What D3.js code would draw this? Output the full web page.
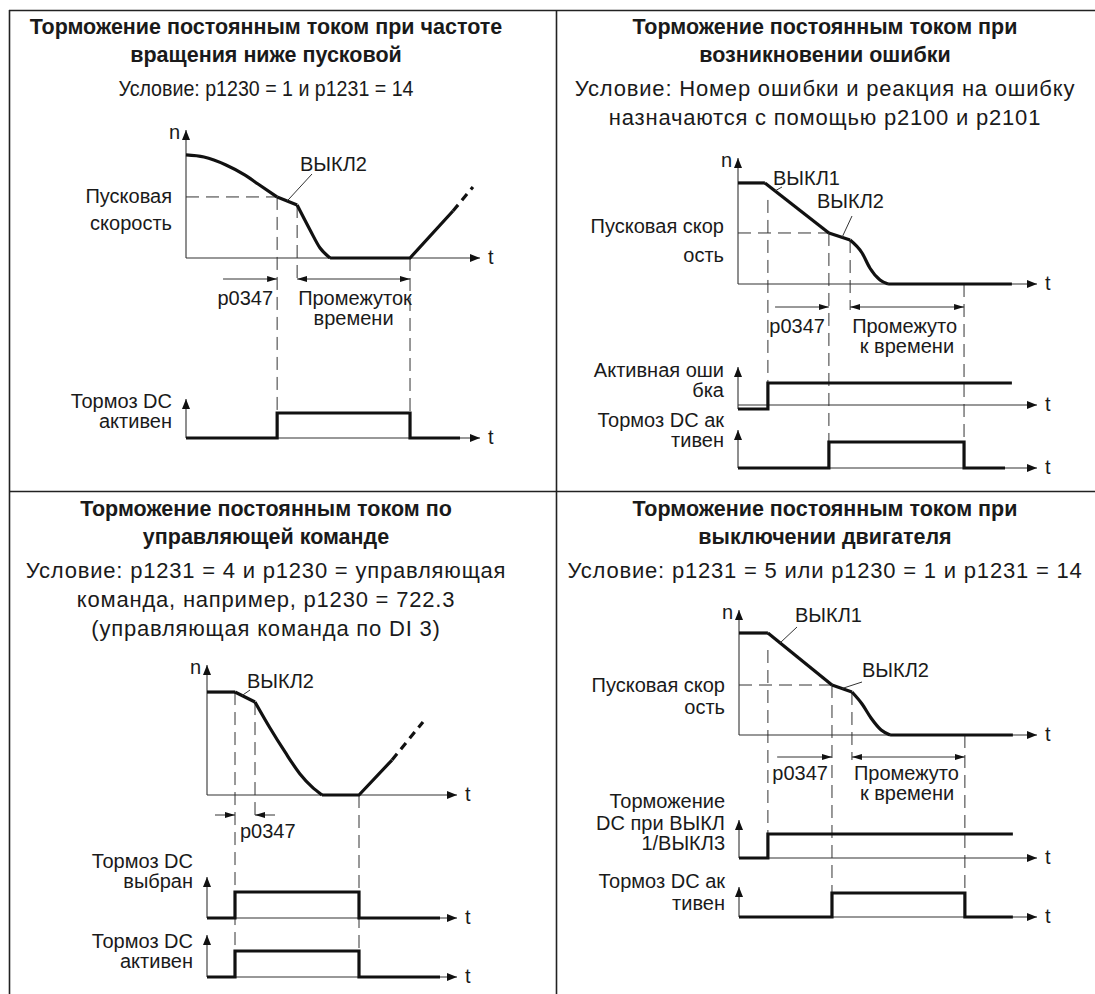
<!DOCTYPE html>
<html>
<head>
<meta charset="utf-8">
<script src="https://cdn.jsdelivr.net/npm/d3@7"></script>
<style>
body { margin: 0; background: #fff; }
svg text { font-family: "Liberation Sans", Arial, sans-serif; fill: #1a1a1a; }
</style>
</head>
<body>
<svg id="chart" width="1095" height="994"></svg>
<script>
// Time runs 0..100 along each t axis, speed 0..100 up each n axis, signals are 0/1

// Panel 1: speed below the starting speed
var p1Title = ["Торможение постоянным током при частоте", "вращения ниже пусковой"];
var p1Cond = ["Условие: p1230 = 1 и p1231 = 14"];
var p1Decel = [[0, 80.5], [6.1, 78.9], [13.6, 72.7], [20.1, 64.8], [24.5, 57.8], [31, 47.7]];
var p1Off2 = [[31, 47.7], [37.8, 41.4]];
var p1Stop = [[37.8, 41.4], [42.2, 21.9], [45.6, 7.8], [49, 0]];
var p1Hold = [[49, 0], [76.2, 0], [90.8, 36.7]];
var p1Restart = [[90.8, 36.7], [97.6, 55.5]];
var p1DcBrake = [[0, 0], [31, 0], [31, 1], [76.2, 1], [76.2, 0], [93.2, 0]];

// Panel 2: on a fault
var p2Title = ["Торможение постоянным током при", "возникновении ошибки"];
var p2Cond = ["Условие: Номер ошибки и реакция на ошибку", "назначаются с помощью p2100 и p2101"];
var p2Run = [[0, 80.2], [9, 80.2]];
var p2Off1 = [[9, 80.2], [30.4, 40.5]];
var p2Off2 = [[30.4, 40.5], [37.5, 34.9]];
var p2Stop = [[37.5, 34.9], [41.5, 24.6], [44.1, 12.7], [47.5, 3.2], [50.2, 0]];
var p2Zero = [[50.2, 0], [91.6, 0]];
var p2Fault = [[0, 0], [10, 0], [10, 1], [91.6, 1]];
var p2DcBrake = [[0, 0], [30.4, 0], [30.4, 1], [75.6, 1], [75.6, 0], [89.3, 0]];

// Panel 3: on a control command
var p3Title = ["Торможение постоянным током по", "управляющей команде"];
var p3Cond = ["Условие: p1231 = 4 и p1230 = управляющая", "команда, например, p1230 = 722.3", "(управляющая команда по DI 3)"];
var p3Run = [[0, 79.2], [11.2, 79.2]];
var p3Off2 = [[11.2, 79.2], [19.2, 71.5]];
var p3Stop = [[19.2, 71.5], [25.2, 51.5], [31.2, 33.1], [37.2, 16.2], [42, 6.2], [46, 0]];
var p3Hold = [[46, 0], [60.8, 0], [74, 26.9]];
var p3Restart = [[74, 26.9], [86.4, 56.2]];
var p3Selected = [[0, 0], [11.2, 0], [11.2, 1], [60.8, 1], [60.8, 0], [93.2, 0]];
var p3Active = [[0, 0], [11.2, 0], [11.2, 1], [60.8, 1], [60.8, 0], [93.2, 0]];

// Panel 4: on switching the motor off
var p4Title = ["Торможение постоянным током при", "выключении двигателя"];
var p4Cond = ["Условие: p1231 = 5 или p1230 = 1 и p1231 = 14"];
var p4Run = [[0, 81.6], [9.7, 81.6]];
var p4Off1 = [[9.7, 81.6], [31.2, 40]];
var p4Off2 = [[31.2, 40], [37.9, 34.4]];
var p4Stop = [[37.9, 34.4], [41.3, 24.8], [44.3, 13.6], [47.7, 4], [50.7, 0]];
var p4Zero = [[50.7, 0], [91.9, 0]];
var p4OffCmd = [[0, 0], [9.7, 0], [9.7, 1], [91.9, 1]];
var p4DcBrake = [[0, 0], [31.2, 0], [31.2, 1], [75.8, 1], [75.8, 0], [91.9, 0]];

var layout = [
  { title: p1Title, cond: p1Cond, condFit: [295], cx: 266, top: 10, x0: 186, x1: 480, y0: 258, y1: 130,
    segs: [{pts: p1Decel, smooth: true}, {pts: p1Off2}, {pts: p1Stop, smooth: true}, {pts: p1Hold}, {pts: p1Restart, dash: true}],
    level: {n: 47.7, t: 31, lines: ["Пусковая", "скорость"], ly: [203, 230]},
    guides: [[31, 47.7, 413], [37.8, 41.4, 283], [76.2, 0, 413]],
    dimY: 279, arrows: [[12.6, 31], [37.8, 76.2, true]],
    dimText: [{s: "p0347", t: 31, dx: -4, y: 305, a: "end"}, {s: "Промежуток", t: 37.8, dx: 1, y: 305, a: "start"}, {s: "времени", t: 57, dx: 0, y: 325, a: "middle"}],
    offs: [{s: "ВЫКЛ2", x: 300, y: 171, lx: 312, ly: 174, at: [34.4, 44.5]}],
    signals: [{lines: ["Тормоз DC", "активен"], ly: [408, 428], low: 438, high: 413, top: 399, steps: p1DcBrake}] },
  { title: p2Title, cond: p2Cond, cx: 825, top: 10, x0: 738, x1: 1037, y0: 284, y1: 158,
    segs: [{pts: p2Run}, {pts: p2Off1}, {pts: p2Off2}, {pts: p2Stop, smooth: true}, {pts: p2Zero}],
    level: {n: 40.5, t: 30.4, lines: ["Пусковая скор", "ость"], ly: [233, 262]},
    guides: [[10, 66.7, 383], [30.4, 40.5, 442], [37.5, 34.9, 310], [75.6, 0, 442]],
    dimY: 307, arrows: [[12.4, 30.4], [37.5, 75.6, true]],
    dimText: [{s: "p0347", t: 30.4, dx: -4, y: 333, a: "end"}, {s: "Промежуто", t: 37.5, dx: 2, y: 333, a: "start"}, {s: "к времени", t: 56.5, dx: 0, y: 353, a: "middle"}],
    offs: [{s: "ВЫКЛ1", x: 773, y: 185, lx: 782, ly: 187, at: [12.4, 73.9]},
           {s: "ВЫКЛ2", x: 817, y: 208, lx: 852, ly: 216, at: [34.8, 37.0]}],
    signals: [{lines: ["Активная оши", "бка"], ly: [377, 397], low: 409, high: 383, top: 367, axis: 405, steps: p2Fault},
              {lines: ["Тормоз DC ак", "тивен"], ly: [427, 447], low: 468, high: 442, top: 430, steps: p2DcBrake}] },
  { title: p3Title, cond: p3Cond, cx: 266, top: 492, x0: 207, x1: 457, y0: 795, y1: 665,
    segs: [{pts: p3Run}, {pts: p3Off2}, {pts: p3Stop, smooth: true}, {pts: p3Hold}, {pts: p3Restart, dash: true}],
    level: null,
    guides: [[11.2, 79.2, 951], [19.2, 71.5, 815], [60.8, 0, 951]],
    dimY: 815, arrows: [[3.2, 11.2], [27.2, 19.2]],
    dimText: [{s: "p0347", t: 11.2, dx: 5, y: 838, a: "start"}],
    offs: [{s: "ВЫКЛ2", x: 247, y: 688, lx: 250, ly: 690, at: [14, 76.5]}],
    signals: [{lines: ["Тормоз DC", "выбран"], ly: [868, 888], low: 918, high: 892, top: 877, steps: p3Selected},
              {lines: ["Тормоз DC", "активен"], ly: [948, 968], low: 977, high: 951, top: 935, steps: p3Active}] },
  { title: p4Title, cond: p4Cond, cx: 825, top: 492, x0: 739, x1: 1037, y0: 735, y1: 610,
    segs: [{pts: p4Run}, {pts: p4Off1}, {pts: p4Off2}, {pts: p4Stop, smooth: true}, {pts: p4Zero}],
    level: {n: 40, t: 31.2, lines: ["Пусковая скор", "ость"], ly: [692, 714]},
    guides: [[9.7, 68, 834], [31.2, 40, 893], [37.9, 34.4, 760], [75.8, 0, 893]],
    dimY: 757, arrows: [[12.8, 31.2], [37.9, 75.8, true]],
    dimText: [{s: "p0347", t: 31.2, dx: -4, y: 780, a: "end"}, {s: "Промежуто", t: 37.9, dx: 2, y: 780, a: "start"}, {s: "к времени", t: 56.4, dx: 0, y: 800, a: "middle"}],
    offs: [{s: "ВЫКЛ1", x: 795, y: 622, lx: 797, ly: 627, at: [13.8, 73.7]},
           {s: "ВЫКЛ2", x: 862, y: 677, lx: 862, ly: 682, at: [34.6, 37.2]}],
    signals: [{lines: ["Торможение", "DC при ВЫКЛ", "1/ВЫКЛ3"], ly: [808, 830, 850], low: 858, high: 834, top: 820, steps: p4OffCmd},
              {lines: ["Тормоз DC ак", "тивен"], ly: [888, 910], low: 917, high: 893, top: 887, steps: p4DcBrake}] }
];

var titleOffsets = [24, 52, 86, 115, 144];
var labelSize = "20px";

var svg = d3.select("#chart");
var defs = svg.append("defs");

defs.append("marker")
  .attr("id", "ax")
  .attr("viewBox", "0 0 10 8")
  .attr("refX", 10).attr("refY", 4)
  .attr("markerWidth", 10).attr("markerHeight", 8)
  .attr("markerUnits", "userSpaceOnUse")
  .attr("orient", "auto-start-reverse")
  .append("path").attr("d", "M0,0L10,4L0,8Z").attr("fill", "#111");

defs.append("marker")
  .attr("id", "dm")
  .attr("viewBox", "0 0 10 6")
  .attr("refX", 10).attr("refY", 3)
  .attr("markerWidth", 10).attr("markerHeight", 6)
  .attr("markerUnits", "userSpaceOnUse")
  .attr("orient", "auto-start-reverse")
  .append("path").attr("d", "M0,0L10,3L0,6Z").attr("fill", "#111");

// Table frame
var frame = svg.append("g").attr("stroke", "#222").attr("stroke-width", 1.6);
frame.append("line").attr("x1", 9).attr("y1", 10.5).attr("x2", 1095).attr("y2", 10.5);
frame.append("line").attr("x1", 9.5).attr("y1", 10).attr("x2", 9.5).attr("y2", 994);
frame.append("line").attr("x1", 556.5).attr("y1", 10).attr("x2", 556.5).attr("y2", 994);
frame.append("line").attr("x1", 9).attr("y1", 491.5).attr("x2", 1095).attr("y2", 491.5);

layout.forEach(drawPanel);

function drawPanel(p) {
  var g = svg.append("g");
  var x = d3.scaleLinear().domain([0, 100]).range([p.x0, p.x1]);
  var y = d3.scaleLinear().domain([0, 100]).range([p.y0, p.y1]);
  var line = d3.line().x(function(d) { return x(d[0]); }).y(function(d) { return y(d[1]); });

  // Heading
  var fit = p.condFit || [];
  var heads = p.title.map(function(s) { return {s: s, bold: true}; })
    .concat(p.cond.map(function(s, i) { return {s: s, bold: false, fit: fit[i]}; }));
  g.selectAll(".head").data(heads).enter().append("text")
    .attr("class", "head")
    .attr("x", p.cx)
    .attr("y", function(d, i) { return p.top + titleOffsets[i]; })
    .attr("text-anchor", "middle")
    .attr("textLength", function(d) { return d.fit || null; })
    .attr("lengthAdjust", function(d) { return d.fit ? "spacingAndGlyphs" : null; })
    .style("font-size", function(d) { return d.bold ? "21.5px" : "22px"; })
    .style("letter-spacing", function(d) { return d.bold || d.fit ? "0px" : "0.8px"; })
    .style("font-weight", function(d) { return d.bold ? "bold" : "normal"; })
    .text(function(d) { return d.s; });

  // Dashed guides
  var guides = g.append("g").attr("stroke", "#333").attr("stroke-width", 1).attr("stroke-dasharray", "13,7").attr("fill", "none");
  if (p.level) {
    guides.append("line")
      .attr("x1", x(0)).attr("x2", x(p.level.t))
      .attr("y1", y(p.level.n)).attr("y2", y(p.level.n));
    g.selectAll(".lvl").data(p.level.lines).enter().append("text")
      .attr("class", "lvl")
      .attr("x", p.x0 - 14)
      .attr("y", function(d, i) { return p.level.ly[i]; })
      .attr("text-anchor", "end")
      .style("font-size", labelSize)
      .text(function(d) { return d; });
  }
  guides.selectAll(".gd").data(p.guides).enter().append("line")
    .attr("x1", function(d) { return x(d[0]); })
    .attr("x2", function(d) { return x(d[0]); })
    .attr("y1", function(d) { return y(d[1]); })
    .attr("y2", function(d) { return d[2]; });

  // Axes
  var axes = g.append("g").attr("stroke", "#333").attr("stroke-width", 1.1);
  axes.append("line").attr("x1", p.x0).attr("y1", p.y0).attr("x2", p.x0).attr("y2", p.y1).attr("marker-end", "url(#ax)");
  axes.append("line").attr("x1", p.x0).attr("y1", p.y0).attr("x2", p.x1).attr("y2", p.y0).attr("marker-end", "url(#ax)");
  g.append("text").attr("x", p.x0 - 6).attr("y", p.y1 + 9).attr("text-anchor", "end").style("font-size", labelSize).text("n");
  g.append("text").attr("x", p.x1 + 8).attr("y", p.y0 + 6).style("font-size", labelSize).text("t");

  // Speed curve
  p.segs.forEach(function(s) {
    g.append("path")
      .attr("d", line.curve(s.smooth ? d3.curveMonotoneX : d3.curveLinear)(s.pts))
      .attr("fill", "none")
      .attr("stroke", "#111")
      .attr("stroke-width", 3.2)
      .attr("stroke-linejoin", "round")
      .attr("stroke-dasharray", s.dash ? "8,6" : null);
  });

  // ВЫКЛ labels with leaders
  p.offs.forEach(function(o) {
    g.append("text").attr("x", o.x).attr("y", o.y).style("font-size", labelSize).text(o.s);
    g.append("line")
      .attr("x1", o.lx).attr("y1", o.ly)
      .attr("x2", x(o.at[0])).attr("y2", y(o.at[1]))
      .attr("stroke", "#333").attr("stroke-width", 1);
  });

  // Time spans
  p.arrows.forEach(function(a) {
    g.append("line")
      .attr("x1", x(a[0])).attr("x2", x(a[1]))
      .attr("y1", p.dimY).attr("y2", p.dimY)
      .attr("stroke", "#333").attr("stroke-width", 1)
      .attr("marker-end", "url(#dm)")
      .attr("marker-start", a[2] ? "url(#dm)" : null);
  });
  p.dimText.forEach(function(d) {
    g.append("text")
      .attr("x", x(d.t) + d.dx).attr("y", d.y)
      .attr("text-anchor", d.a)
      .style("font-size", labelSize)
      .text(d.s);
  });

  // Binary signals
  p.signals.forEach(function(s) {
    var ys = d3.scaleLinear().domain([0, 1]).range([s.low, s.high]);
    var axisY = s.axis || s.low;
    var sig = g.append("g");
    sig.append("line").attr("x1", p.x0).attr("y1", s.low).attr("x2", p.x0).attr("y2", s.top)
      .attr("stroke", "#333").attr("stroke-width", 1.1).attr("marker-end", "url(#ax)");
    sig.append("line").attr("x1", p.x0).attr("y1", axisY).attr("x2", p.x1).attr("y2", axisY)
      .attr("stroke", "#333").attr("stroke-width", 1.1).attr("marker-end", "url(#ax)");
    sig.append("path")
      .attr("d", d3.line().x(function(d) { return x(d[0]); }).y(function(d) { return ys(d[1]); })(s.steps))
      .attr("fill", "none").attr("stroke", "#111").attr("stroke-width", 3.2);
    sig.append("text").attr("x", p.x1 + 8).attr("y", axisY + 6).style("font-size", labelSize).text("t");
    sig.selectAll(".sl").data(s.lines).enter().append("text")
      .attr("class", "sl")
      .attr("x", p.x0 - 14)
      .attr("y", function(d, i) { return s.ly[i]; })
      .attr("text-anchor", "end")
      .style("font-size", labelSize)
      .text(function(d) { return d; });
  });
}
</script>
</body>
</html>
